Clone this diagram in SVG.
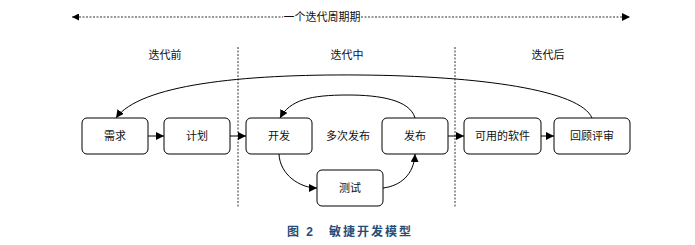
<svg xmlns="http://www.w3.org/2000/svg" width="695" height="245" viewBox="0 0 695 245">
<style>
text{font-family:"Liberation Sans","Noto Sans CJK SC",sans-serif;font-size:11px;fill:#111;text-anchor:middle;dominant-baseline:central}
.box{fill:#fff;stroke:#000;stroke-width:1}
.c{fill:none;stroke:#000;stroke-width:1}
.d{fill:none;stroke:#000;stroke-width:0.8;stroke-dasharray:2 1.5}
.cap{font-size:12px;font-weight:bold;fill:#1f4e79;letter-spacing:2px}
</style>
<defs>
<marker id="ah" viewBox="0 0 10 10" refX="10" refY="5" markerWidth="8" markerHeight="8" markerUnits="userSpaceOnUse" orient="auto"><path d="M0,0L10,5L0,10z" fill="#000"/></marker>
<marker id="ahs" viewBox="0 0 10 10" refX="0" refY="5" markerWidth="7" markerHeight="7" markerUnits="userSpaceOnUse" orient="auto"><path d="M10,0L0,5L10,10z" fill="#000"/></marker>
</defs>
<rect width="695" height="245" fill="#fff"/>
<g id="cycle">
<line class="d" x1="72" y1="17" x2="283" y2="17" marker-start="url(#ahs)"/>
<line class="d" x1="361" y1="17" x2="630" y2="17" marker-end="url(#ah)"/>
<text x="322" y="17">一个迭代周期期</text>
</g>
<g id="phases">
<line class="d" x1="238" y1="47" x2="238" y2="208"/>
<line class="d" x1="455" y1="47" x2="455" y2="208"/>
<text x="165" y="55">迭代前</text>
<text x="347" y="55">迭代中</text>
<text x="548" y="55">迭代后</text>
</g>
<g id="connectors">
<line class="c" x1="148" y1="136" x2="164" y2="136" marker-end="url(#ah)"/>
<line class="c" x1="230" y1="136" x2="246" y2="136" marker-end="url(#ah)"/>
<line class="c" x1="448" y1="136" x2="464" y2="136" marker-end="url(#ah)"/>
<line class="c" x1="541" y1="136" x2="554" y2="136" marker-end="url(#ah)"/>
<path class="c" d="M592,118 C580,90 480,76 360,75 C240,74 140,85 116,118" marker-end="url(#ah)"/>
<path class="c" d="M415,118 C410,100 380,95 348,95 C310,95 290,100 280,118" marker-end="url(#ah)"/>
<path class="c" d="M279,154 C280,175 300,188 317,188" marker-end="url(#ah)"/>
<path class="c" d="M383,188 C400,186 414,175 415,154" marker-end="url(#ah)"/>
</g>
<g id="n-xuqiu"><rect class="box" x="82" y="118" width="66" height="36" rx="5"/><text x="115" y="136">需求</text></g>
<g id="n-jihua"><rect class="box" x="164" y="118" width="66" height="36" rx="5"/><text x="197" y="136">计划</text></g>
<g id="n-kaifa"><rect class="box" x="246" y="118" width="66" height="36" rx="5"/><text x="279" y="136">开发</text></g>
<g id="n-duoci"><text x="348" y="136">多次发布</text></g>
<g id="n-fabu"><rect class="box" x="382" y="118" width="66" height="36" rx="5"/><text x="415" y="136">发布</text></g>
<g id="n-ceshi"><rect class="box" x="317" y="170" width="66" height="36" rx="5"/><text x="350" y="188">测试</text></g>
<g id="n-keyong"><rect class="box" x="464" y="118" width="77" height="36" rx="5"/><text x="502.5" y="136">可用的软件</text></g>
<g id="n-huigu"><rect class="box" x="554" y="118" width="76" height="36" rx="5"/><text x="592" y="136">回顾评审</text></g>
<g id="caption"><text class="cap" x="350" y="232">图 2　敏捷开发模型</text></g>
</svg>
